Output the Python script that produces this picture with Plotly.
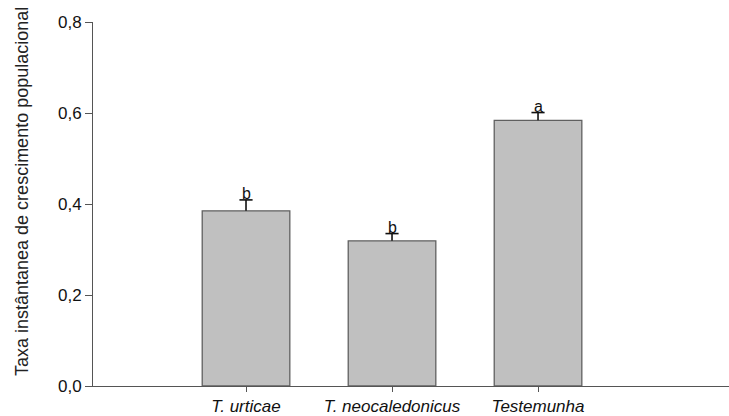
import plotly.graph_objects as go

categories = ["T. urticae", "T. neocaledonicus", "Testemunha"]
values = [0.385, 0.319, 0.584]
errors = [0.024, 0.016, 0.017]
letters = ["b", "b", "a"]
y_ticks = [0.0, 0.2, 0.4, 0.6, 0.8]

FONT = "Liberation Sans, Arial, sans-serif"
CAP = 0.045  # half-width of error cap in category units

fig = go.Figure()
fig.add_trace(go.Bar(
    x=list(range(len(categories))),
    y=values,
    width=0.6,
    marker=dict(color="#c0c0c0", line=dict(color="#606060", width=1.3)),
    showlegend=False,
))

for i, (v, e, l) in enumerate(zip(values, errors, letters)):
    fig.add_shape(type="line", xref="x", yref="y", x0=i, x1=i, y0=v, y1=v + e,
                  line=dict(color="#111111", width=1.6))
    fig.add_shape(type="line", xref="x", yref="y", x0=i - CAP, x1=i + CAP,
                  y0=v + e, y1=v + e, line=dict(color="#111111", width=1.6))
    fig.add_annotation(x=i, y=v + e, text=l, showarrow=False, xref="x", yref="y",
                       yanchor="bottom", yshift=-4,
                       font=dict(family=FONT, size=16, color="#111111"))

fig.add_annotation(x=(22 - 93) / 636, y=0.5, xref="paper", yref="paper",
                   xanchor="center", yanchor="middle", yshift=12,
                   text="Taxa instântanea de crescimento populacional",
                   textangle=-90, showarrow=False,
                   font=dict(family=FONT, size=18, color="#222222"))

fig.update_layout(
    width=729, height=416,
    margin=dict(l=93, r=0, t=22, b=30, pad=0, autoexpand=False),
    plot_bgcolor="white", paper_bgcolor="white",
    separators=",.",
)
fig.update_xaxes(
    range=[-1.048, 3.308], automargin=False,
    tickmode="array", tickvals=list(range(len(categories))),
    ticktext=["<i>%s</i>" % c for c in categories],
    showline=True, linecolor="#555555", linewidth=1,
    ticks="outside", ticklen=5, tickcolor="#555555",
    tickfont=dict(family=FONT, size=17, color="#111111"),
    showgrid=False, zeroline=False,
)
fig.update_yaxes(
    range=[0, 0.8], automargin=False,
    tickmode="array", tickvals=y_ticks, tickformat=".1f",
    showline=True, linecolor="#555555", linewidth=1,
    ticks="outside", ticklen=7, tickcolor="#555555",
    tickfont=dict(family=FONT, size=17, color="#111111"),
    showgrid=False, zeroline=False,
)

fig.write_html("out.html")
